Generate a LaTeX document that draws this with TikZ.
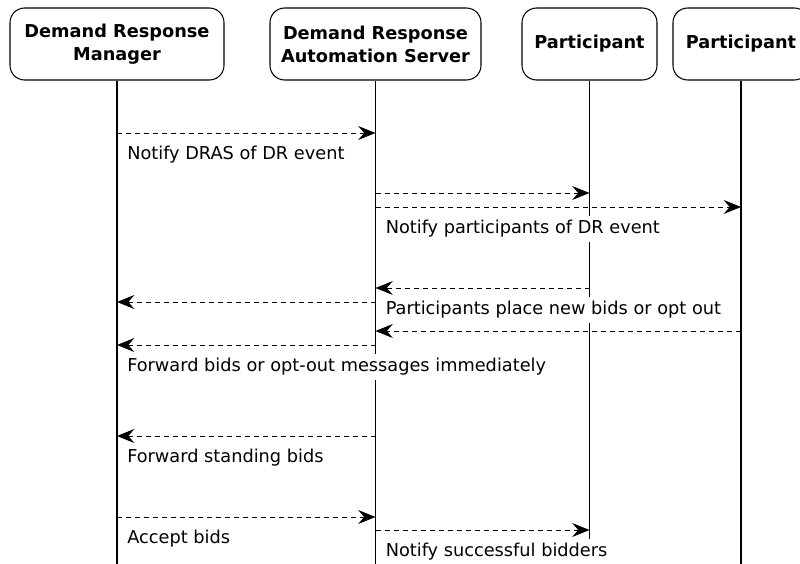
\documentclass[tikz,border=0pt]{standalone}
\usepackage{fontspec}
\setmainfont{DejaVu Sans}
\usepackage{tikz}
\usetikzlibrary{arrows.meta, positioning}

\begin{document}
\begin{tikzpicture}[
    x=0.75pt, y=-0.75pt,
    actor/.style={draw, line width=0.8pt, rounded corners=11pt, align=center, minimum height=54pt, inner sep=0pt, font=\fontsize{13.3}{17.25}\selectfont\bfseries},
    lifeline/.style={line width=0.85pt},
    msg/.style={-{Stealth[length=13pt, width=10.5pt, inset=4.5pt]}, line width=0.75pt, dash pattern=on 3.75pt off 3pt},
    msglabel/.style={fill=white, anchor=west, xshift=4pt, inner xsep=3.5pt, inner ysep=3.5pt, text height=10pt, text depth=3pt, font=\fontsize{13.3}{16}\selectfont}
]
    \clip (0,0) rectangle (800,564);
    \useasboundingbox (0,0) rectangle (800,564);

    % Nodes
    \node (drm) [actor, minimum width=160.5pt] at (117,44) {Demand Response\\Manager};
    \node (dras) [actor, minimum width=158.25pt] at (375.5,44) {Demand Response\\Automation Server};
    \node (pa) [actor, minimum width=101.25pt] at (589.5,44) {Participant};
    \node (pb) [actor, minimum width=102pt] at (741,44) {Participant};

    % Lifelines
    \draw [lifeline] (drm.south) -- (drm.south |- 0,564);
    \draw [lifeline] (dras.south) -- (dras.south |- 0,564);
    \draw [lifeline] (pa.south) -- (pa.south |- 0,564);
    \draw [lifeline] (pb.south) -- (pb.south |- 0,564);

    % Paths
    \draw [msg] (drm.south |- 0,133) -- (dras.south |- 0,133);
    \draw [msg] (dras.south |- 0,193) -- (pa.south |- 0,193);
    \draw [msg] (dras.south |- 0,207) -- (pb.south |- 0,207);
    \draw [msg] (pa.south |- 0,288) -- (dras.south |- 0,288);
    \draw [msg] (dras.south |- 0,302) -- (drm.south |- 0,302);
    \draw [msg] (pb.south |- 0,331) -- (dras.south |- 0,331);
    \draw [msg] (dras.south |- 0,345) -- (drm.south |- 0,345);
    \draw [msg] (dras.south |- 0,436) -- (drm.south |- 0,436);
    \draw [msg] (drm.south |- 0,517) -- (dras.south |- 0,517);
    \draw [msg] (dras.south |- 0,530) -- (pa.south |- 0,530);

    % Labels
    \node (notifydras) [msglabel] at (drm.south |- 0,155) {Notify DRAS of DR event};
    \node (notifypart) [msglabel] at (dras.south |- 0,229) {Notify participants of DR event};
    \node (placebids) [msglabel] at (dras.south |- 0,310) {Participants place new bids or opt out};
    \node (fwdbids) [msglabel] at (drm.south |- 0,367) {Forward bids or opt-out messages immediately};
    \node (fwdstanding) [msglabel] at (drm.south |- 0,458) {Forward standing bids};
    \node (accept) [msglabel] at (drm.south |- 0,539) {Accept bids};
    \node (notifywin) [msglabel] at (dras.south |- 0,552) {Notify successful bidders};
\end{tikzpicture}
\end{document}
